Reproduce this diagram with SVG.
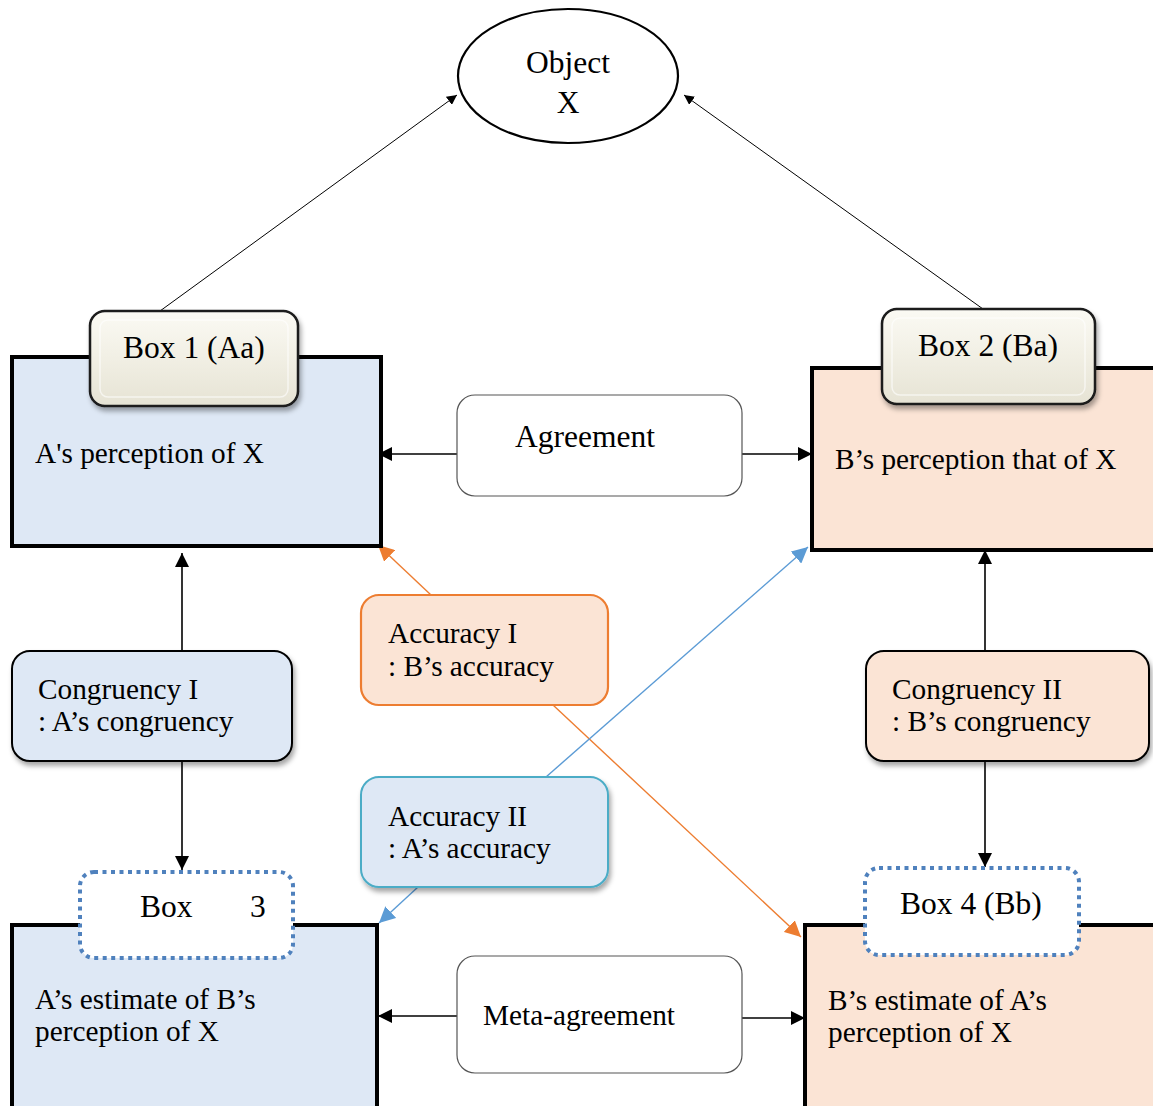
<svg xmlns="http://www.w3.org/2000/svg" width="1153" height="1106" viewBox="0 0 1153 1106">
  <style>
    text { font-family: "Liberation Serif", "Times New Roman", serif; fill: #000; }
    .t26 { font-size: 29.3px; }
    .t28 { font-size: 31.5px; }
    .main-a { fill: #DEE8F5; stroke: #000; stroke-width: 4; }
    .main-b { fill: #FBE4D5; stroke: #000; stroke-width: 4; }
    .tab { fill: url(#bevel); stroke: #1a1a1a; stroke-width: 2.5; }
    .tab-dot { fill: #fff; stroke: #4F81BD; stroke-width: 4; stroke-dasharray: 4 4.5; }
    .rel { fill: #fff; stroke: #555; stroke-width: 1.2; }
    .cong-a { fill: #DEE8F5; stroke: #000; stroke-width: 2; }
    .cong-b { fill: #FBE4D5; stroke: #000; stroke-width: 2; }
    .acc-1 { fill: #FBE4D5; stroke: #ED7D31; stroke-width: 2.2; }
    .acc-2 { fill: #DEE8F5; stroke: #4BACC6; stroke-width: 2; }
    .blk { stroke: #000; stroke-width: 1.6; fill: none; }
    .thin { stroke: #000; stroke-width: 1; fill: none; }
    .org { stroke: #ED7D31; stroke-width: 1.4; fill: none; }
    .blu { stroke: #5B9BD5; stroke-width: 1.4; fill: none; }
  </style>
  <defs>
    <linearGradient id="bevel" x1="0" y1="0" x2="0" y2="1">
      <stop offset="0" stop-color="#FBFAF4"/>
      <stop offset="0.5" stop-color="#F1EFE4"/>
      <stop offset="1" stop-color="#E6E3D4"/>
    </linearGradient>
    <filter id="shadow" x="-10%" y="-10%" width="125%" height="130%">
      <feDropShadow dx="2" dy="4" stdDeviation="2.5" flood-color="#000" flood-opacity="0.35"/>
    </filter>
    <marker id="ah" viewBox="0 0 10 10" refX="10" refY="5" markerWidth="10" markerHeight="10" markerUnits="userSpaceOnUse" orient="auto">
      <path d="M0,0 L10,5 L0,10 Z" fill="#000"/>
    </marker>
    <marker id="ahb" viewBox="0 0 10 10" refX="10" refY="5" markerWidth="14" markerHeight="14" markerUnits="userSpaceOnUse" orient="auto">
      <path d="M0,0 L10,5 L0,10 Z" fill="#000"/>
    </marker>
    <marker id="aho" viewBox="0 0 10 10" refX="10" refY="5" markerWidth="16" markerHeight="16" markerUnits="userSpaceOnUse" orient="auto">
      <path d="M0,0 L10,5 L0,10 Z" fill="#ED7D31"/>
    </marker>
    <marker id="ahbl" viewBox="0 0 10 10" refX="10" refY="5" markerWidth="16" markerHeight="16" markerUnits="userSpaceOnUse" orient="auto">
      <path d="M0,0 L10,5 L0,10 Z" fill="#5B9BD5"/>
    </marker>
  </defs>

  <!-- connectors -->
  <g id="connectors">
    <line class="thin" x1="160" y1="311" x2="457" y2="95" marker-end="url(#ah)"/>
    <line class="thin" x1="983" y1="309" x2="684" y2="95" marker-end="url(#ah)"/>
    <line class="blk" x1="457" y1="454" x2="378" y2="454" marker-end="url(#ahb)"/>
    <line class="blk" x1="742" y1="454" x2="812" y2="454" marker-end="url(#ahb)"/>
    <line class="blk" x1="457" y1="1016" x2="378" y2="1016" marker-end="url(#ahb)"/>
    <line class="blk" x1="742" y1="1018" x2="805" y2="1018" marker-end="url(#ahb)"/>
    <line class="blk" x1="182" y1="651" x2="182" y2="553" marker-end="url(#ahb)"/>
    <line class="blk" x1="182" y1="761" x2="182" y2="870" marker-end="url(#ahb)"/>
    <line class="blk" x1="985" y1="651" x2="985" y2="550" marker-end="url(#ahb)"/>
    <line class="blk" x1="985" y1="761" x2="985" y2="867" marker-end="url(#ahb)"/>
    <line class="org" x1="431" y1="595" x2="378" y2="545" marker-end="url(#aho)"/>
    <line class="org" x1="553" y1="705" x2="801" y2="937" marker-end="url(#aho)"/>
    <line class="blu" x1="546" y1="777" x2="808" y2="547" marker-end="url(#ahbl)"/>
    <line class="blu" x1="418" y1="887" x2="379" y2="923" marker-end="url(#ahbl)"/>
  </g>

  <!-- Object X -->
  <g id="object-x">
    <ellipse cx="568" cy="76" rx="110" ry="67" fill="#fff" stroke="#000" stroke-width="2.2"/>
    <text class="t28" x="568" y="73" text-anchor="middle">Object</text>
    <text class="t28" x="568" y="113" text-anchor="middle">X</text>
  </g>

  <!-- Box 1 -->
  <g id="box1">
    <rect class="main-a" x="12" y="357" width="369" height="189"/>
    <text class="t26" x="35" y="463">A's perception of X</text>
    <g filter="url(#shadow)">
      <rect class="tab" x="90" y="311" width="208" height="95" rx="15"/>
    </g>
    <rect x="100" y="320" width="188" height="77" rx="8" fill="none" stroke="#fff" stroke-opacity="0.6" stroke-width="1.5"/>
    <text class="t28" x="123" y="358">Box 1 (Aa)</text>
  </g>

  <!-- Box 2 -->
  <g id="box2">
    <rect class="main-b" x="812" y="368" width="345" height="182"/>
    <text class="t26" x="835" y="469">B’s perception that of X</text>
    <g filter="url(#shadow)">
      <rect class="tab" x="882" y="309" width="213" height="95" rx="15"/>
    </g>
    <rect x="892" y="318" width="193" height="77" rx="8" fill="none" stroke="#fff" stroke-opacity="0.6" stroke-width="1.5"/>
    <text class="t28" x="918" y="356">Box 2 (Ba)</text>
  </g>

  <!-- Box 3 -->
  <g id="box3">
    <rect class="main-a" x="12" y="925" width="365" height="185"/>
    <text class="t26" x="35" y="1009">A’s estimate of B’s</text>
    <text class="t26" x="35" y="1041">perception of X</text>
    <rect class="tab-dot" x="80" y="872" width="213" height="86" rx="14"/>
    <text class="t28" x="140" y="917">Box</text>
    <text class="t28" x="250" y="917">3</text>
  </g>

  <!-- Box 4 -->
  <g id="box4">
    <rect class="main-b" x="805" y="925" width="352" height="185"/>
    <text class="t26" x="828" y="1010">B’s estimate of A’s</text>
    <text class="t26" x="828" y="1042">perception of X</text>
    <rect class="tab-dot" x="865" y="868" width="214" height="87" rx="14"/>
    <text class="t28" x="900" y="914">Box 4 (Bb)</text>
  </g>

  <!-- Agreement -->
  <g id="agreement">
    <rect class="rel" x="457" y="395" width="285" height="101" rx="18"/>
    <text class="t28" x="515" y="447">Agreement</text>
  </g>

  <!-- Meta-agreement -->
  <g id="meta-agreement">
    <rect class="rel" x="457" y="956" width="285" height="117" rx="18"/>
    <text class="t26" x="483" y="1025">Meta-agreement</text>
  </g>

  <!-- Congruency I -->
  <g id="congruency-1" >
    <rect class="cong-a" x="12" y="651" width="280" height="110" rx="18" filter="url(#shadow)"/>
    <text class="t26" x="38" y="699">Congruency I</text>
    <text class="t26" x="38" y="731">: A’s congruency</text>
  </g>

  <!-- Congruency II -->
  <g id="congruency-2">
    <rect class="cong-b" x="866" y="651" width="283" height="110" rx="18" filter="url(#shadow)"/>
    <text class="t26" x="892" y="699">Congruency II</text>
    <text class="t26" x="892" y="731">: B’s congruency</text>
  </g>

  <!-- Accuracy I -->
  <g id="accuracy-1">
    <rect class="acc-1" x="361" y="595" width="247" height="110" rx="18"/>
    <text class="t26" x="388" y="643">Accuracy I</text>
    <text class="t26" x="388" y="676">: B’s accuracy</text>
  </g>

  <!-- Accuracy II -->
  <g id="accuracy-2">
    <rect class="acc-2" x="361" y="777" width="247" height="110" rx="18" filter="url(#shadow)"/>
    <text class="t26" x="388" y="826">Accuracy II</text>
    <text class="t26" x="388" y="858">: A’s accuracy</text>
  </g>
</svg>
